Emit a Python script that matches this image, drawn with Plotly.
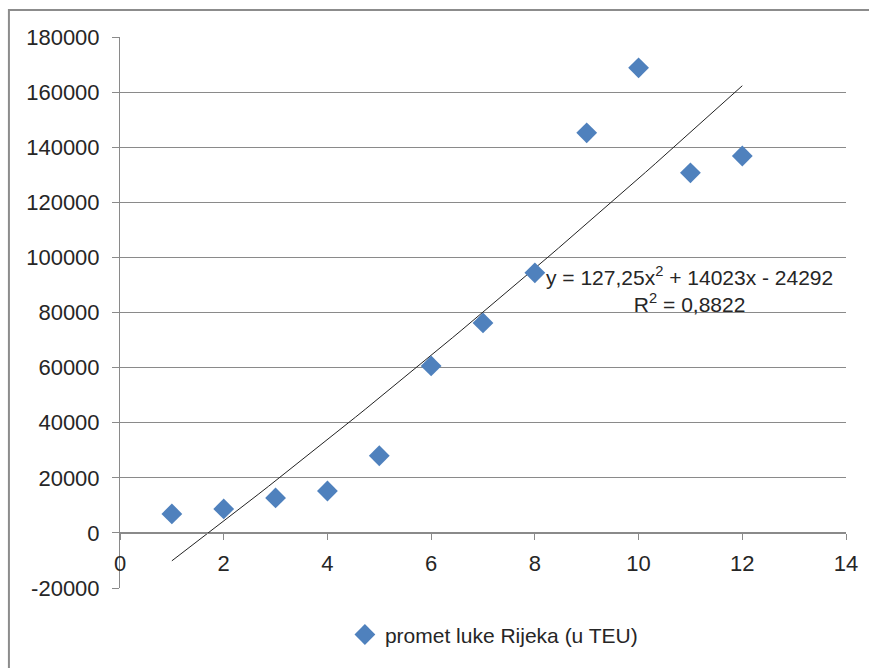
import plotly.graph_objects as go
import numpy as np

# Data
years = [1, 2, 3, 4, 5, 6, 7, 8, 9, 10, 11, 12]
teu = [6900, 8700, 12700, 15200, 28000, 60600, 76200, 94400, 145200, 168800, 130700, 136800]
series_name = "promet luke Rijeka (u TEU)"

# Trendline coefficients as displayed on the chart
coef_a, coef_b, coef_c = 127.25, 14023, -24292
r2_text = "0,8822"

x_ticks = [0, 2, 4, 6, 8, 10, 12, 14]
x_labels = [str(v) for v in x_ticks]
y_ticks = list(range(-20000, 180001, 20000))
y_labels = [str(v) for v in y_ticks]

xt = np.linspace(min(years), max(years), 60)
yt = coef_a * xt**2 + coef_b * xt + coef_c

FONT = "Liberation Sans"
FS = 21
TICK_FS = 22
TXT = "#262626"
GRID = "#8a8a8a"

fig = go.Figure()
fig.add_trace(go.Scatter(x=xt, y=yt, mode="lines", line=dict(color="#222222", width=1),
                         showlegend=False, hoverinfo="skip"))
fig.add_trace(go.Scatter(x=years, y=teu, mode="markers", name=series_name,
                         marker=dict(symbol="diamond", size=16, color="#4F81BD",
                                     line=dict(width=0))))

fig.add_annotation(x=10.98, y=88500, xref="x", yref="y",
                   text="y = 127,25x<sup>2</sup> + 14023x - 24292<br>R<sup>2</sup> = " + r2_text,
                   showarrow=False, align="center", xanchor="center", yanchor="middle",
                   font=dict(family=FONT, size=FS, color=TXT))

fig.update_layout(
    width=869, height=668,
    margin=dict(l=120, r=23, t=37, b=80),
    paper_bgcolor="white", plot_bgcolor="white",
    font=dict(family=FONT, size=FS, color=TXT),
    showlegend=True,
    legend=dict(orientation="h", x=0.515, xanchor="center", y=-0.085, yanchor="middle",
                font=dict(family=FONT, size=FS, color=TXT)),
    xaxis=dict(range=[0, 14], tickvals=x_ticks, ticktext=x_labels, showgrid=False, zeroline=False,
               showline=True, linecolor=GRID, linewidth=1,
               ticks="outside", ticklen=6, tickcolor=GRID, ticklabelstandoff=5,
               tickfont=dict(family=FONT, size=TICK_FS, color=TXT),
               anchor="free", position=0.1),
    yaxis=dict(range=[-20000, 180000], tickvals=y_ticks, ticktext=y_labels, showgrid=True, gridcolor=GRID,
               gridwidth=1, zeroline=False, showline=True, linecolor=GRID, linewidth=1,
               ticks="outside", ticklen=7, tickcolor=GRID, ticklabelstandoff=8,
               tickfont=dict(family=FONT, size=TICK_FS, color=TXT)),
    shapes=[dict(type="rect", xref="paper", yref="paper", x0=-0.153, x1=1.2, y0=-0.3, y1=1.049,
                 line=dict(color="#8c8c8c", width=2), layer="below")],
)

fig.write_html("out.html")
